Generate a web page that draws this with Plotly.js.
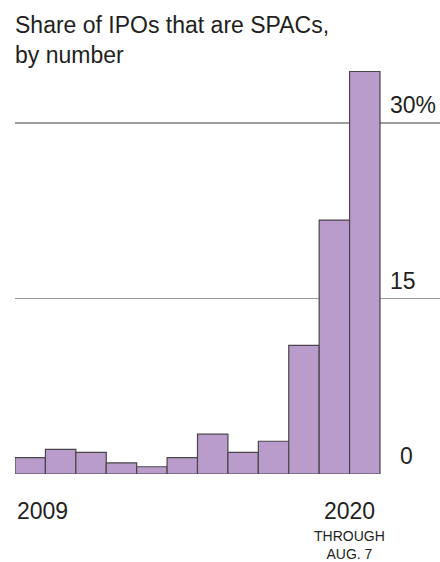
<!DOCTYPE html>
<html>
<head>
<meta charset="utf-8">
<script src="https://cdn.plot.ly/plotly-3.0.1.min.js"></script>
<style>
  html, body { margin: 0; padding: 0; background: #fff; }
  #chart { width: 440px; height: 562px; }
</style>
</head>
<body>
<div id="chart"></div>
<script>
// Data
const years = [2009, 2010, 2011, 2012, 2013, 2014, 2015, 2016, 2017, 2018, 2019, 2020];
const spacShare = [1.4, 2.1, 1.85, 0.95, 0.62, 1.4, 3.4, 1.85, 2.8, 11.0, 21.7, 34.4];
const yTickVals = [0, 15, 30];
const yTickText = ['0', '15', '30%'];
const xLabelYears = [2009, 2020];
const xLabelText = ['2009', '2020'];
const noteText = 'THROUGH<br>AUG. 7';

const FONT = '"Liberation Sans", Arial, Helvetica, sans-serif';
const TXT = '#231f20';

const trace = {
  type: 'bar',
  x: years,
  y: spacShare,
  width: 1,
  marker: {
    color: '#b99ccb',
    line: { color: '#4a4548', width: 1.2 }
  },
  hoverinfo: 'x+y'
};

const annotations = [];
// y tick labels, sitting above their gridlines at the right
yTickVals.forEach((v, i) => {
  annotations.push({
    xref: 'paper', yref: 'y',
    x: 0.8776, y: v,
    xanchor: 'left', yanchor: 'middle',
    xshift: v === 0 ? 10 : 0,
    yshift: 18,
    text: yTickText[i],
    showarrow: false,
    font: { family: FONT, size: 23, color: TXT }
  });
});
// x labels
annotations.push({
  xref: 'x', yref: 'paper',
  x: xLabelYears[0] - 0.5, y: 0,
  xanchor: 'left', yanchor: 'top',
  yshift: -22,
  text: xLabelText[0],
  showarrow: false,
  font: { family: FONT, size: 23, color: TXT }
});
annotations.push({
  xref: 'x', yref: 'paper',
  x: xLabelYears[1] - 0.5, y: 0,
  xanchor: 'center', yanchor: 'top',
  yshift: -22,
  text: xLabelText[1],
  showarrow: false,
  font: { family: FONT, size: 23, color: TXT }
});
annotations.push({
  xref: 'x', yref: 'paper',
  x: xLabelYears[1] - 0.5, y: 0,
  xanchor: 'center', yanchor: 'top',
  yshift: -53,
  borderpad: 0,
  text: noteText,
  showarrow: false,
  font: { family: FONT, size: 14, color: TXT }
});

const barPx = 365 / years.length;
const layout = {
  width: 440,
  height: 562,
  margin: { l: 15, r: 0, t: 60, b: 88, pad: 0 },
  paper_bgcolor: '#ffffff',
  plot_bgcolor: '#ffffff',
  showlegend: false,
  bargap: 0,
  title: {
    text: 'Share of IPOs that are SPACs,<br>by number',
    xref: 'container', yref: 'container',
    x: 15 / 440, xanchor: 'left',
    y: 1 - 33 / 562, yanchor: 'top',
    font: { family: FONT, size: 23, color: TXT }
  },
  xaxis: {
    type: 'linear',
    range: [years[0] - 0.5, years[0] - 0.5 + 425 / barPx],
    showgrid: false,
    zeroline: false,
    showticklabels: false,
    ticks: '',
    showline: false,
    fixedrange: true
  },
  yaxis: {
    range: [0, 414 / 11.7],
    tickvals: yTickVals,
    showgrid: true,
    gridcolor: '#9b9b9b',
    gridwidth: 1.2,
    zeroline: false,
    showticklabels: false,
    ticks: '',
    showline: false,
    fixedrange: true
  },
  annotations: annotations,
  font: { family: FONT, color: TXT }
};

Plotly.newPlot('chart', [trace], layout, { displayModeBar: false, staticPlot: true });
</script>
</body>
</html>
